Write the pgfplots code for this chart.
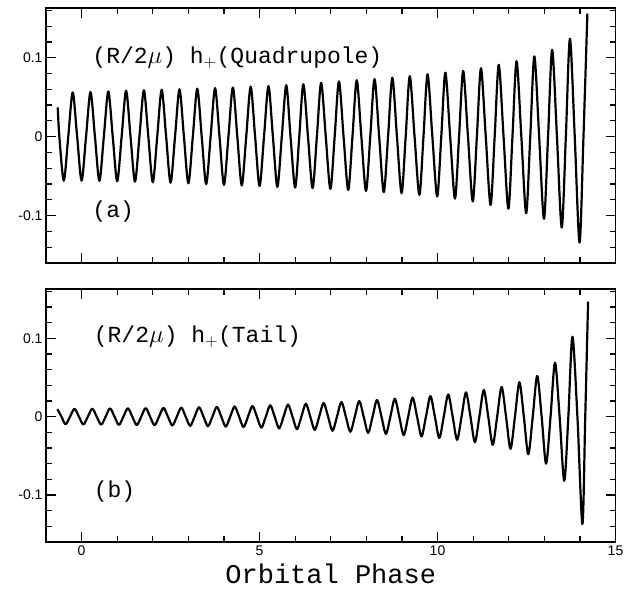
\documentclass[border=0pt]{standalone}
\usepackage{fontspec}
\setsansfont{Liberation Sans}
\setmonofont{Liberation Mono}
\usepackage{pgfplots}
\pgfplotsset{compat=1.18}
\pgfplotsset{panel/.style={
  scale only axis, width=569.5pt,
  xmin=-1, xmax=15, ymin=-0.16, ymax=0.163,
  xtick={0,5,10,15}, minor xtick={-1,1,2,3,4,6,7,8,9,11,12,13,14},
  ytick={-0.1,0,0.1},
  minor ytick={-0.16,-0.14,-0.12,-0.08,-0.06,-0.04,-0.02,0.02,0.04,0.06,0.08,0.12,0.14,0.16},
  major tick length=10pt, minor tick length=6pt,
  tick style={black, line width=1.2pt},
  axis line style={line width=1.3pt},
  ticklabel style={font=\sffamily\fontsize{14}{16}\selectfont},
  /pgf/number format/assume math mode=true,
  yticklabel style={/pgf/number format/fixed, /pgf/number format/precision=2},
}}
\newcommand\paneltickmarks{%
  \pgfplotsinvokeforeach{-1,1,2,3,4,6,7,8,9,11,12,13,14}{%
    \draw[line width=1.2pt] (axis cs:##1,-0.16) -- ++(0pt,6pt);
    \draw[line width=1.2pt] (axis cs:##1,0.163) -- ++(0pt,-6pt);}%
  \pgfplotsinvokeforeach{0,5,10}{%
    \draw[line width=1.2pt] (axis cs:##1,-0.16) -- ++(0pt,10pt);
    \draw[line width=1.2pt] (axis cs:##1,0.163) -- ++(0pt,-10pt);}%
  \pgfplotsinvokeforeach{-0.14,-0.12,-0.08,-0.06,-0.04,-0.02,0.02,0.04,0.06,0.08,0.12,0.14,0.16}{%
    \draw[line width=1.2pt] (axis cs:-1,##1) -- ++(6pt,0pt);
    \draw[line width=1.2pt] (axis cs:15,##1) -- ++(-6pt,0pt);}%
  \pgfplotsinvokeforeach{-0.1,0,0.1}{%
    \draw[line width=1.2pt] (axis cs:-1,##1) -- ++(10pt,0pt);
    \draw[line width=1.2pt] (axis cs:15,##1) -- ++(-10pt,0pt);}%
}
\begin{document}
\begin{tikzpicture}
\path[use as bounding box] (0pt,0pt) rectangle (624pt,589pt);
% ---------- top panel (a) ----------
\begin{axis}[panel, at={(46pt,326pt)}, anchor=south west, height=255pt, xticklabels={}]
\addplot[black, line width=2.2pt, smooth, mark=none, line join=round] coordinates {
(-0.67,0.037) (-0.625,0) (-0.5,-0.0557) (-0.375,0) (-0.25,0.0561) (-0.125,0)
(0,-0.0557) (0.125,0) (0.25,0.0565) (0.375,0) (0.5,-0.056) (0.625,0)
(0.75,0.0574) (0.875,0) (1,-0.0565) (1.125,0) (1.25,0.0582) (1.375,0)
(1.5,-0.057) (1.625,0) (1.75,0.0588) (1.875,0) (2,-0.0578) (2.125,0)
(2.25,0.0595) (2.375,0) (2.5,-0.0583) (2.625,0) (2.75,0.06) (2.875,0)
(3,-0.059) (3.125,0) (3.25,0.0608) (3.375,0) (3.5,-0.06) (3.625,0)
(3.75,0.0616) (3.875,0) (4,-0.061) (4.125,0) (4.25,0.0624) (4.375,0)
(4.5,-0.0618) (4.625,0) (4.75,0.0633) (4.875,0) (5,-0.0626) (5.125,0)
(5.25,0.0641) (5.375,0) (5.5,-0.0636) (5.625,0) (5.75,0.0652) (5.87,0)
(6,-0.0645) (6.115,0) (6.23,0.0665) (6.36,0) (6.49,-0.0652) (6.61,0)
(6.73,0.0683) (6.86,0) (6.99,-0.0662) (7.11,0) (7.23,0.07) (7.36,0)
(7.49,-0.0675) (7.61,0) (7.73,0.0715) (7.86,0) (7.99,-0.0688) (8.11,0)
(8.23,0.073) (8.36,0) (8.49,-0.0703) (8.61,0) (8.73,0.0747) (8.86,0)
(8.99,-0.0717) (9.105,0) (9.22,0.0767) (9.355,0) (9.49,-0.0737) (9.605,0)
(9.72,0.079) (9.855,0) (9.99,-0.0758) (10.105,0) (10.22,0.081) (10.355,0)
(10.49,-0.0785) (10.605,0) (10.72,0.0832) (10.855,0) (10.99,-0.082) (11.105,0)
(11.22,0.0866) (11.355,0) (11.49,-0.0865) (11.605,0) (11.72,0.091) (11.855,0)
(11.99,-0.0912) (12.105,0) (12.22,0.0955) (12.355,0) (12.49,-0.097) (12.605,0)
(12.72,0.1017) (12.855,0) (12.99,-0.104) (13.105,0) (13.22,0.11) (13.355,0)
(13.49,-0.115) (13.605,0) (13.72,0.124) (13.855,0) (13.99,-0.134) (14.1,0)
(14.21,0.156)
};
\paneltickmarks
\node[anchor=west, font=\ttfamily\fontsize{23}{27}\selectfont, inner sep=0pt] at (axis cs:0.3,0.1) {(R/2$\mu$) h$_+$(Quadrupole)};
\node[anchor=west, font=\ttfamily\fontsize{23}{27}\selectfont, inner sep=0pt] at (axis cs:0.3,-0.095) {(a)};
\end{axis}
% ---------- bottom panel (b) ----------
\begin{axis}[panel, at={(46pt,47pt)}, anchor=south west, height=253pt,
  xlabel={Orbital Phase},
  xlabel style={font=\ttfamily\fontsize{27}{30}\selectfont, yshift=-2pt}]
\addplot[black, line width=2.2pt, smooth, mark=none, line join=round] coordinates {
(-0.68,0.0095) (-0.565,0) (-0.45,-0.0097) (-0.325,0) (-0.2,0.01) (-0.075,0)
(0.05,-0.01) (0.175,0) (0.3,0.0102) (0.425,0) (0.55,-0.0102) (0.675,0)
(0.8,0.0105) (0.925,0) (1.05,-0.0105) (1.175,0) (1.3,0.0107) (1.425,0)
(1.55,-0.0107) (1.675,0) (1.8,0.011) (1.925,0) (2.05,-0.011) (2.175,0)
(2.3,0.0112) (2.425,0) (2.55,-0.0113) (2.675,0) (2.8,0.0115) (2.925,0)
(3.05,-0.0117) (3.175,0) (3.3,0.012) (3.425,0) (3.55,-0.0122) (3.675,0)
(3.8,0.0125) (3.925,0) (4.05,-0.0127) (4.175,0) (4.3,0.013) (4.425,0)
(4.55,-0.0133) (4.675,0) (4.8,0.0136) (4.925,0) (5.05,-0.014) (5.175,0)
(5.3,0.0145) (5.425,0) (5.55,-0.015) (5.675,0) (5.8,0.0155) (5.925,0)
(6.05,-0.016) (6.175,0) (6.3,0.0165) (6.425,0) (6.55,-0.017) (6.675,0)
(6.8,0.0175) (6.925,0) (7.05,-0.018) (7.175,0) (7.3,0.0187) (7.425,0)
(7.55,-0.0193) (7.675,0) (7.8,0.02) (7.925,0) (8.05,-0.0207) (8.175,0)
(8.3,0.0213) (8.425,0) (8.55,-0.022) (8.675,0) (8.8,0.0228) (8.925,0)
(9.05,-0.0235) (9.175,0) (9.3,0.0243) (9.425,0) (9.55,-0.0252) (9.675,0)
(9.8,0.0262) (9.925,0) (10.05,-0.0272) (10.175,0) (10.3,0.0283) (10.425,0)
(10.55,-0.0295) (10.675,0) (10.8,0.031) (10.925,0) (11.05,-0.0325) (11.175,0)
(11.3,0.034) (11.425,0) (11.55,-0.036) (11.675,0) (11.8,0.038) (11.925,0)
(12.05,-0.041) (12.175,0) (12.3,0.044) (12.425,0) (12.55,-0.048) (12.675,0)
(12.8,0.052) (12.925,0) (13.05,-0.06) (13.175,0) (13.3,0.069) (13.43,0)
(13.56,-0.082) (13.675,0) (13.79,0.102) (13.93,0) (14.07,-0.137) (14.15,0)
(14.23,0.147)
};
\paneltickmarks
\node[anchor=west, font=\ttfamily\fontsize{23}{27}\selectfont, inner sep=0pt] at (axis cs:0.34,0.102) {(R/2$\mu$) h$_+$(Tail)};
\node[anchor=west, font=\ttfamily\fontsize{23}{27}\selectfont, inner sep=0pt] at (axis cs:0.34,-0.095) {(b)};
\end{axis}
\end{tikzpicture}
\end{document}
